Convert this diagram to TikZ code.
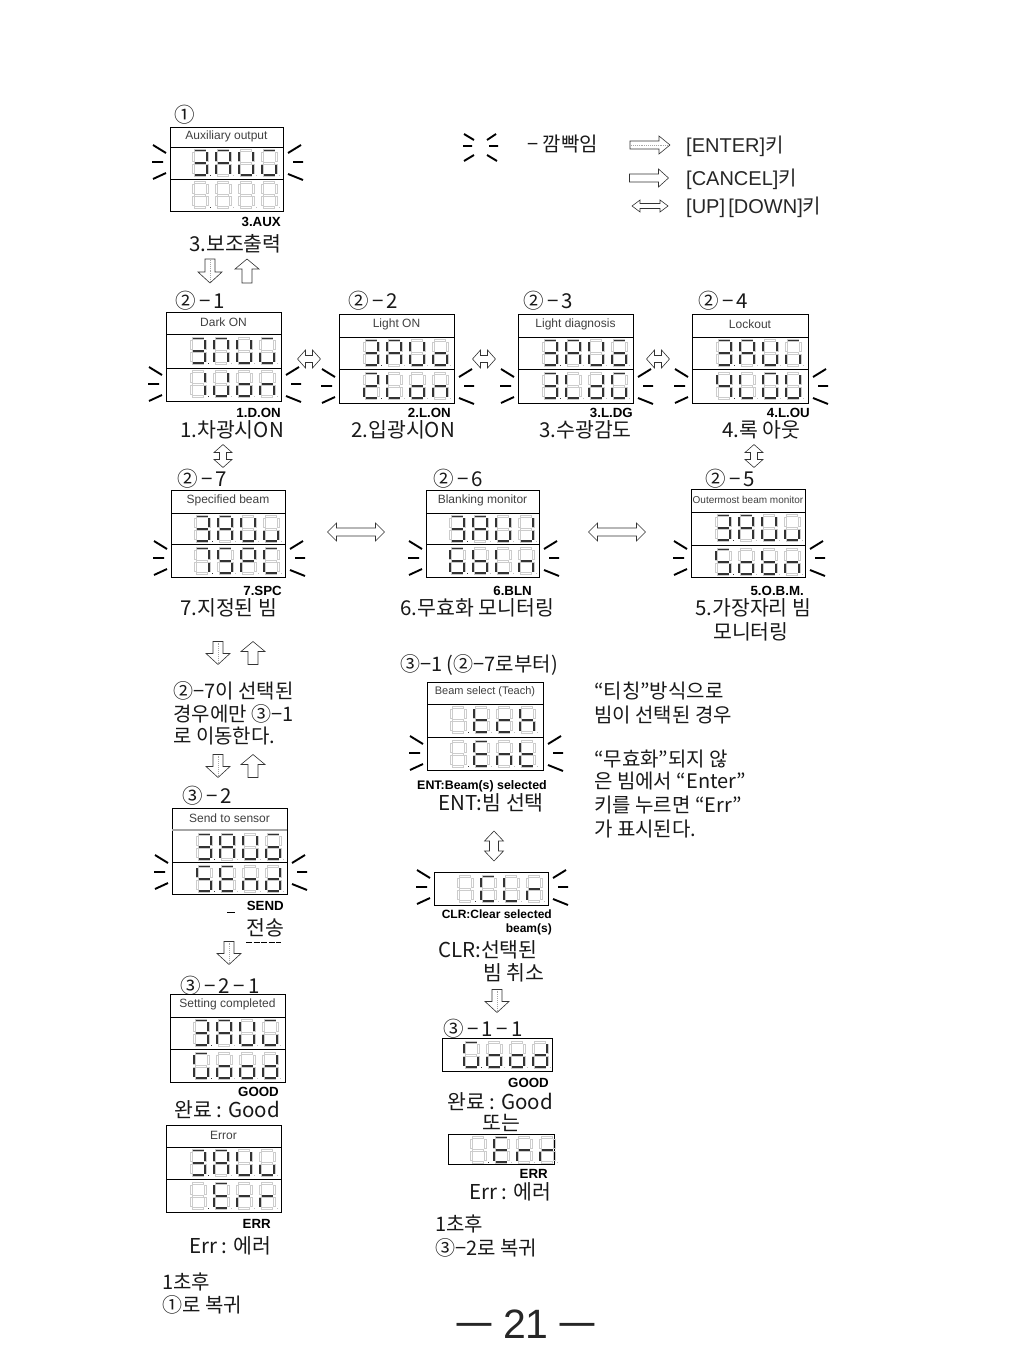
\documentclass[tikz,border=0pt]{standalone}
\usepackage{fontspec}
\setmainfont{Liberation Sans}
\newfontfamily\kr{Noto Sans CJK KR}
\tikzset{
  box/.style={draw=black,line width=0.8pt,fill=white},
  ghost/.style={draw=gray!40,line width=0.4pt},
  segon/.style={draw=black!80,line width=1.6pt},
  ray/.style={draw=black,line width=1.9pt},
  blockarrow/.style={draw=black!80,line width=0.6pt,fill=white,line join=miter},
  kt/.style={font=\kr\fontsize{20.5}{20.5}\selectfont,anchor=base west,inner sep=0pt,yshift=-7pt,text=black!90},
  ks/.style={font=\kr\fontsize{20}{20}\selectfont,anchor=base west,inner sep=0pt,yshift=-7pt,text=black!90},
  lt/.style={font=\fontsize{20}{20}\selectfont,anchor=base west,inner sep=0pt,yshift=-7pt,text=black!85},
  tag/.style={font=\bfseries\fontsize{13.3}{13.3}\selectfont,anchor=base east,inner sep=0pt,yshift=-4.5pt},
  tagm/.style={tag,font=\bfseries\fontsize{12.4}{12.4}\selectfont},
  ttl/.style={font=\fontsize{12}{12}\selectfont,inner sep=0pt,text=black!75},
}
\def\sga{\draw[segon] (2.5,0.5)--(13.5,0.5);}
\def\sgb{\draw[segon] (15,2)--(15,11);}
\def\sgc{\draw[segon] (15,14.5)--(15,23.5);}
\def\sgd{\draw[segon] (2.5,25)--(13.5,25);}
\def\sge{\draw[segon] (1,14.5)--(1,23.5);}
\def\sgf{\draw[segon] (1,2)--(1,11);}
\def\sgg{\draw[segon] (2.5,12.75)--(13.5,12.75);}
\def\sgx{}
\newcommand{\dgt}[3]{\begin{scope}[shift={(#1,#2)}]
  \draw[ghost] (2.5,-0.5) rectangle (13.5,1.5) (2.5,11.75) rectangle (13.5,13.75) (2.5,24) rectangle (13.5,26);
  \draw[ghost] (0,2) rectangle (2,11) (14,2) rectangle (16,11) (0,14.5) rectangle (2,23.5) (14,14.5) rectangle (16,23.5);
  \fill[gray!50] (18,24.5) rectangle (19.4,26);
  \foreach \s in {#3} {\csname sg\s\endcsname}
\end{scope}}
% absolute x, y of digit tops
\newcommand{\drow}[6]{\dgt{#1}{#2}{#3}\dgt{#1+23}{#2}{#4}\dgt{#1+46}{#2}{#5}\dgt{#1+69}{#2}{#6}
  \fill[black!80] ({#1+18},{#2+24.5}) rectangle ({#1+19.4},{#2+26});}
% 3-row panel: x0 x1 y0 y1 y2 y3 title
\newcommand{\panel}[8]{\draw[box] (#2,#4) rectangle (#3,#7);
  \draw[line width=0.8pt] (#2,#5) -- (#3,#5) (#2,#6) -- (#3,#6);
  \node[ttl] (#1) at ({(#2+#3)/2},{(#4+#5)/2-1}) {#8};}
\newcommand{\blink}[3]{%
  \draw[ray] (#1-17,#3-17) -- (#1-4,#3-9) (#1-18,#3) -- (#1-7,#3) (#1-17,#3+17) -- (#1-4,#3+11);
  \draw[ray] (#2+5,#3-9) -- (#2+18,#3-17) (#2+10,#3) -- (#2+20,#3) (#2+5,#3+12) -- (#2+20,#3+18);}
% single block arrow: x y angle L W S H
\newcommand{\sarrow}[7]{\begin{scope}[shift={(#1,#2)},rotate=#3]
  \draw[blockarrow] ({-#4/2},{-#6}) -- ({#4/2-#7},{-#6}) -- ({#4/2-#7},{-#5}) -- ({#4/2},0) -- ({#4/2-#7},{#5}) -- ({#4/2-#7},{#6}) -- ({-#4/2},{#6}) -- cycle;
\end{scope}}
\newcommand{\earrow}[7]{\sarrow{#1}{#2}{#3}{#4}{#5}{#6}{#7}\begin{scope}[shift={(#1,#2)},rotate=#3]
  \draw[gray!70,line width=0.9pt,densely dotted] ({-#4/2+1},0) -- ({#4/2-2},0);
\end{scope}}
\newcommand{\darrow}[7]{\begin{scope}[shift={(#1,#2)},rotate=#3]
  \draw[blockarrow] ({-#4/2},0) -- ({-#4/2+#7},{-#5}) -- ({-#4/2+#7},{-#6}) -- ({#4/2-#7},{-#6}) -- ({#4/2-#7},{-#5}) -- ({#4/2},0) -- ({#4/2-#7},{#5}) -- ({#4/2-#7},{#6}) -- ({-#4/2+#7},{#6}) -- ({-#4/2+#7},{#5}) -- cycle;
\end{scope}}
\begin{document}
\begin{tikzpicture}[x=1pt,y=-1pt]
\useasboundingbox (0,0) rectangle (1024,1365);
\fill[white] (0,0) rectangle (1024,1365);

% ---------- panel 1
\node[kt] (n1) at (174,115) {①};
\panel{paux}{170}{283}{127}{147}{179}{211}{Auxiliary output}
\drow{192}{150}{a,b,c,d,g}{a,b,c,e,f,g}{b,c,d,e,f}{a,c,d,e}
\drow{192}{182}{x}{x}{x}{x}
\blink{170}{283}{162}
\node[tag] (taux) at (281,222) {3.AUX};
\node[kt] (kaux) at (189,244) {3.보조출력};
\earrow{210}{271}{270}{24}{12}{5}{11}
\sarrow{247}{271}{90}{24}{12}{5}{10}

% ---------- legend
\draw[ray] (464,134) -- (474,140) (463,146) -- (472,146) (464,161) -- (474,155);
\draw[ray] (487,140) -- (496,134) (489,146) -- (498,146) (487,155) -- (497,161);
\node[ks] (lgb) at (527,144) {− 깜빡임};
\earrow{650}{145}{0}{40}{9}{4}{11}
\node[lt] (lge) at (686,145) {[ENTER]\kr 키};
\sarrow{649}{178}{0}{39}{9}{4}{10}
\node[lt] (lgc) at (686,178) {[CANCEL]\kr 키};
\darrow{650}{206}{0}{36}{6}{2.5}{8}
\node[lt] (lgu) at (686,206) {[UP]\,[DOWN]\kr 키};

% ---------- row 2
\node[kt] (n21) at (175,301) {②\,−\,1};
\node[kt] (n22) at (348,301) {②\,−\,2};
\node[kt] (n23) at (523,301) {②\,−\,3};
\node[kt] (n24) at (698,301) {②\,−\,4};

\panel{pdon}{166}{281}{312}{334}{368}{401}{Dark ON}
\drow{190}{338}{a,d,g,b,c}{a,b,c,e,f}{b,c,d,e,f}{a,c,d,e}
\drow{190}{371}{b,c}{c,d,e,b}{c,d,e,g}{c,e,g}
\blink{166}{281}{384}
\node[tag] (tdon) at (281,413) {1.D.ON};
\node[kt] (kdon) at (180,430) {1.차광시ON};

\panel{plon}{339}{454}{314}{337}{369}{403}{Light ON}
\drow{363}{340}{a,b,c,d,g}{a,b,c,e,f,g}{b,c,d,e,f}{c,d,e,g}
\drow{363}{373}{a,b,g,e,d}{d,e,f}{c,d,e,g}{c,e,g}
\blink{339}{454}{386}
\node[tag] (tlon) at (451,413) {2.L.ON};
\node[kt] (klon) at (351,430) {2.입광시ON};

\panel{pldg}{518}{633}{314}{337}{369}{403}{Light diagnosis}
\drow{542}{340}{a,b,c,d,g}{a,b,c,e,f,g}{b,c,d,e,f}{a,c,d,e,g}
\drow{542}{373}{a,b,c,d,g}{d,e,f}{b,c,d,e,g}{a,c,d,e,f}
\blink{518}{633}{386}
\node[tag] (tldg) at (633,413) {3.L.DG};
\node[kt] (kldg) at (539,430) {3.수광감도};

\panel{plou}{692}{808}{314}{337}{369}{403}{Lockout}
\drow{716}{340}{a,b,c,d,g}{a,b,c,e,f,g}{b,c,d,e,f}{a,c,e}
\drow{716}{373}{b,c,f,g}{d,e,f}{a,b,c,d,e,f}{b,c,d,e,f}
\blink{692}{808}{386}
\node[tag] (tlou) at (810,413) {4.L.OU};
\node[kt] (klou) at (722,430) {4.록 아웃};

\darrow{309}{359}{0}{23}{9}{3.5}{8}
\darrow{484}{359}{0}{23}{9}{3.5}{8}
\darrow{658}{359}{0}{23}{9}{3.5}{8}
\darrow{223}{456}{90}{23}{9}{3.5}{8}
\darrow{754}{456}{90}{23}{9}{3.5}{8}

% ---------- row 3
\node[kt] (n27) at (177,479) {②\,−\,7};
\node[kt] (n26) at (433,479) {②\,−\,6};
\node[kt] (n25) at (705,479) {②\,−\,5};

\panel{pspc}{171}{285}{490}{513}{544}{577}{Specified beam}
\drow{194}{516}{a,b,c,d,g}{a,b,c,e,f,g}{b,c,d,e,f}{c,d,e}
\drow{194}{548}{a,b,c}{a,c,d,f,g}{a,b,e,f,g}{a,d,e,f}
\blink{171}{285}{558}
\node[tag] (tspc) at (282,591) {7.SPC};
\node[kt] (kspc) at (180,608) {7.지정된 빔};

\panel{pbln}{426}{539}{490}{513}{544}{577}{Blanking monitor}
\drow{449}{516}{a,b,c,d,g}{a,b,c,e,f,g}{b,c,d,e,f}{b,c,d}
\drow{449}{548}{a,c,d,e,f,g}{c,d,e,f,g}{d,e,f}{c,e,g}
\blink{426}{539}{558}
\node[tag] (tbln) at (532,591) {6.BLN};
\node[kt] (kbln) at (400,608) {6.무효화 모니터링};

\panel{pobm}{691}{805}{489}{512}{545}{577}{\fontsize{10}{10}\selectfont Outermost beam monitor}
\drow{715}{515}{a,b,c,d,g}{a,b,c,e,f,g}{b,c,d,e,f}{c,d,e}
\drow{715}{549}{a,c,d,f,g}{c,d,e,g}{c,d,e,f,g}{c,e,g}
\blink{691}{805}{558}
\node[tag] (tobm) at (804,591) {5.O.B.M.};
\node[kt] (kobm) at (695,608) {5.가장자리 빔};
\node[kt] (kobm2) at (713,632) {모니터링};

\darrow{356}{532}{0}{57}{9}{4}{9}
\darrow{617}{532}{0}{57}{9}{4}{9}

\earrow{218}{653}{270}{23}{12}{5}{11}
\sarrow{253}{653}{90}{23}{12}{5}{10}

% ---------- middle column
\node[ks] (n31h) at (400,664) {③−1 (②−7로부터)};
\panel{pbs}{427}{543}{682}{704}{737}{770}{\fontsize{11}{11}\selectfont Beam select (Teach)}
\drow{450}{707}{x}{d,e,f,g}{d,e,g}{c,e,f,g}
\drow{450}{741}{x}{a,d,e,f,g}{c,e,g}{d,e,f,g}
\blink{427}{543}{753}
\node[tagm] (tent) at (547,785) {ENT:Beam(s) selected};
\node[kt] (kent) at (438,803) {ENT:빔 선택};
\darrow{494}{846}{90}{30}{9.5}{4.5}{10}

\draw[box] (434,872) rectangle (548,905);
\node[inner sep=0pt] (pclr) at (491,888) {};
\drow{457}{876}{x}{a,d,e,f}{d,e,f}{e,g}
\blink{434}{548}{887}
\node[tagm,font=\bfseries\fontsize{12}{12}\selectfont] (tclr) at (552,914) {CLR:Clear selected};
\node[tagm,font=\bfseries\fontsize{12}{12}\selectfont] (tclr2) at (552,928) {beam(s)};
\node[kt] (kclr) at (438,950) {CLR:선택된};
\node[kt] (kclr2) at (483,973) {빔 취소};
\earrow{497}{1001}{270}{23}{12}{5}{11}
\node[kt] (n311) at (443,1029) {③\,−\,1\,−\,1};
\draw[box] (442,1038) rectangle (552,1071);
\node[inner sep=0pt] (pg2) at (497,1054) {};
\drow{463}{1042}{a,c,d,e,f}{c,d,e,g}{c,d,e,g}{b,c,d,e,g}
\node[tag] (tg2) at (549,1083) {GOOD};
\node[kt] (kg2) at (447,1102) {완료 : Good};
\node[kt] (kor) at (482,1123) {또는};
\draw[box] (448,1134) rectangle (554,1164);
\node[inner sep=0pt] (pe2) at (501,1149) {};
\drow{470}{1137}{x}{a,d,e,f,g}{e,g}{e,g}
\node[tag] (te2) at (548,1174) {ERR};
\node[kt] (ke2) at (469,1192) {Err : 에러};
\node[ks] (ksec2) at (435,1224) {1초후};
\node[ks] (kback2) at (435,1248) {③−2로 복귀};

% ---------- right notes
\node[ks] (nt1) at (594,691) {“티칭”방식으로};
\node[ks] (nt2) at (594,715) {빔이 선택된 경우};
\node[ks] (nt3) at (594,759) {“무효화”되지 않};
\node[ks] (nt4) at (594,781) {은 빔에서 “Enter”};
\node[ks] (nt5) at (594,805) {키를 누르면 “Err”};
\node[ks] (nt6) at (594,829) {가 표시된다.};

% ---------- left column
\node[ks] (nl1) at (173,691) {②−7이 선택된};
\node[ks] (nl2) at (173,714) {경우에만 ③−1};
\node[ks] (nl3) at (173,736) {로 이동한다.};
\earrow{218}{766}{270}{23}{12}{5}{11}
\sarrow{253}{766}{90}{23}{12}{5}{10}

\node[kt] (n32) at (182,796) {③\,−\,2};
\panel{psnd}{172}{287}{808}{830}{862}{894}{Send to sensor}
\draw[gray!70,line width=1.4pt] (172,830) -- (287,830);
\drow{196}{834}{a,b,c,d,g}{a,b,c,e,f,g}{b,c,d,e,f}{a,c,d,e,g}
\drow{196}{866}{a,c,d,f,g}{a,d,e,f,g}{c,e,g}{b,c,d,e,g}
\blink{172}{287}{872}
\draw[line width=0.9pt] (227,912) -- (235,912);
\node[tag] (tsnd) at (284,906) {SEND};
\node[kt] (ksnd) at (246,928) {전송};
\draw[line width=1pt,dash pattern=on 6pt off 1.5pt] (246,942) -- (281,942);
\earrow{229}{953}{270}{23}{12}{5}{11}

\node[kt] (n321) at (180,986) {③\,−\,2\,−\,1};
\panel{pgd}{170}{285}{994}{1017}{1049}{1082}{Setting completed}
\drow{193}{1020}{a,b,c,d,g}{a,b,c,e,f,g}{b,c,d,e,f}{a,c,d,e}
\drow{193}{1053}{a,c,d,e,f}{c,d,e,g}{c,d,e,g}{b,c,d,e,g}
\node[tag] (tgd) at (279,1092) {GOOD};
\node[kt] (kgd) at (174,1110) {완료 : Good};

\panel{perr}{166}{281}{1125}{1147}{1179}{1212}{Error}
\drow{190}{1150}{a,b,c,d,g}{a,b,c,e,f,g}{b,c,d,e,f}{c,d,e}
\drow{190}{1183}{x}{a,d,e,f,g}{e,g}{e,g}
\node[tag] (terr) at (271,1224) {ERR};
\node[kt] (kerr) at (189,1246) {Err : 에러};
\node[ks] (ksec) at (162,1282) {1초후};
\node[ks] (kback) at (162,1305) {①로 복귀};

% ---------- page number
\node[font=\fontsize{41}{41}\selectfont,inner sep=0pt,text=black!85] (pgn) at (526,1324) {\scalebox{1.75}[1]{−}\hspace{8pt}21\hspace{8pt}\scalebox{1.75}[1]{−}};
\end{tikzpicture}
\end{document}
